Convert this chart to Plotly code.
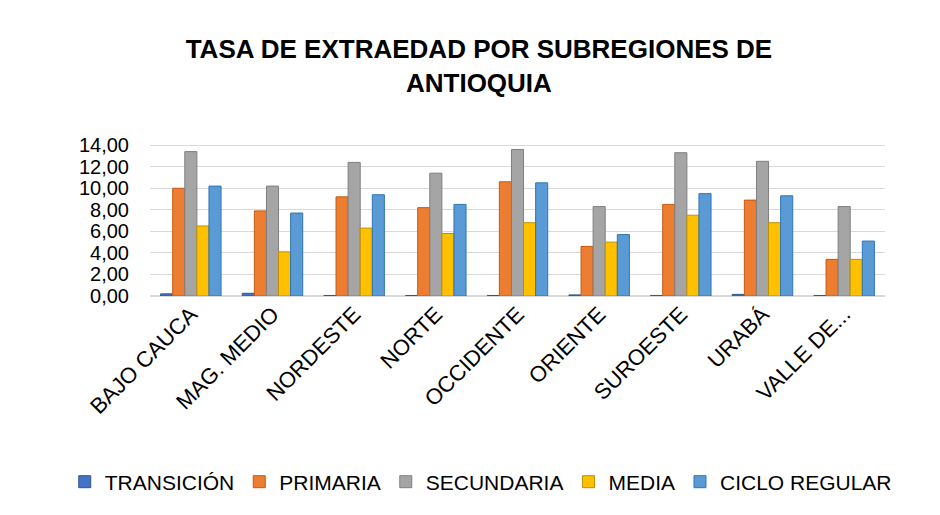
import plotly.graph_objects as go

categories = ["BAJO CAUCA", "MAG. MEDIO", "NORDESTE", "NORTE", "OCCIDENTE",
              "ORIENTE", "SUROESTE", "URABÁ", "VALLE DE..."]
transicion = [0.20, 0.25, 0.05, 0.05, 0.05, 0.10, 0.05, 0.15, 0.05]
primaria = [10.0, 7.9, 9.2, 8.2, 10.6, 4.6, 8.5, 8.9, 3.4]
secundaria = [13.4, 10.2, 12.4, 11.4, 13.6, 8.3, 13.3, 12.5, 8.3]
media = [6.5, 4.1, 6.3, 5.8, 6.8, 5.0, 7.5, 6.8, 3.4]
ciclo_regular = [10.2, 7.7, 9.4, 8.5, 10.5, 5.7, 9.5, 9.3, 5.1]

series = [
    ("TRANSICIÓN", transicion, "#4472C4", "#2F5597"),
    ("PRIMARIA", primaria, "#ED7D31", "#C55A11"),
    ("SECUNDARIA", secundaria, "#A5A5A5", "#7F7F7F"),
    ("MEDIA", media, "#FFC000", "#BF9000"),
    ("CICLO REGULAR", ciclo_regular, "#5B9BD5", "#2E75B6"),
]

fig = go.Figure()
for name, vals, col, edge in series:
    fig.add_trace(go.Bar(
        x=categories, y=vals, name=name,
        marker=dict(color=col, line=dict(color=edge, width=1)),
    ))

font = "Liberation Sans, Arial, sans-serif"
fig.update_layout(
    width=940, height=515,
    paper_bgcolor="white", plot_bgcolor="white",
    separators=",.",
    barmode="group", bargap=0.26, bargroupgap=0.0,
    margin=dict(l=142, r=63, t=135, b=227),
    title=dict(
        text="<b>TASA DE EXTRAEDAD POR SUBREGIONES DE<br>ANTIOQUIA</b>",
        x=0.501, xanchor="center", y=0.903, yanchor="bottom",
        yref="container",
        font=dict(family=font, size=26, color="black"),
    ),
    font=dict(family=font, color="black"),
    legend=dict(
        orientation="h", xref="paper", yref="paper",
        x=-0.116, xanchor="left", y=-1.216, yanchor="middle",
        font=dict(family=font, size=21, color="black"),
        itemwidth=30, traceorder="normal", tracegroupgap=0,
    ),
    yaxis=dict(
        range=[0, 14.2], dtick=2, tickformat=".2f",
        showgrid=True, gridcolor="#D9D9D9", gridwidth=1,
        zeroline=True, zerolinecolor="#D9D9D9",
        showline=False, ticks="", ticklabelstandoff=20,
        tickfont=dict(family=font, size=20, color="black"),
    ),
    xaxis=dict(
        tickangle=-45, showline=False, ticks="",
        tickfont=dict(family=font, size=22, color="black"),
    ),
)

fig.write_html("out.html")
